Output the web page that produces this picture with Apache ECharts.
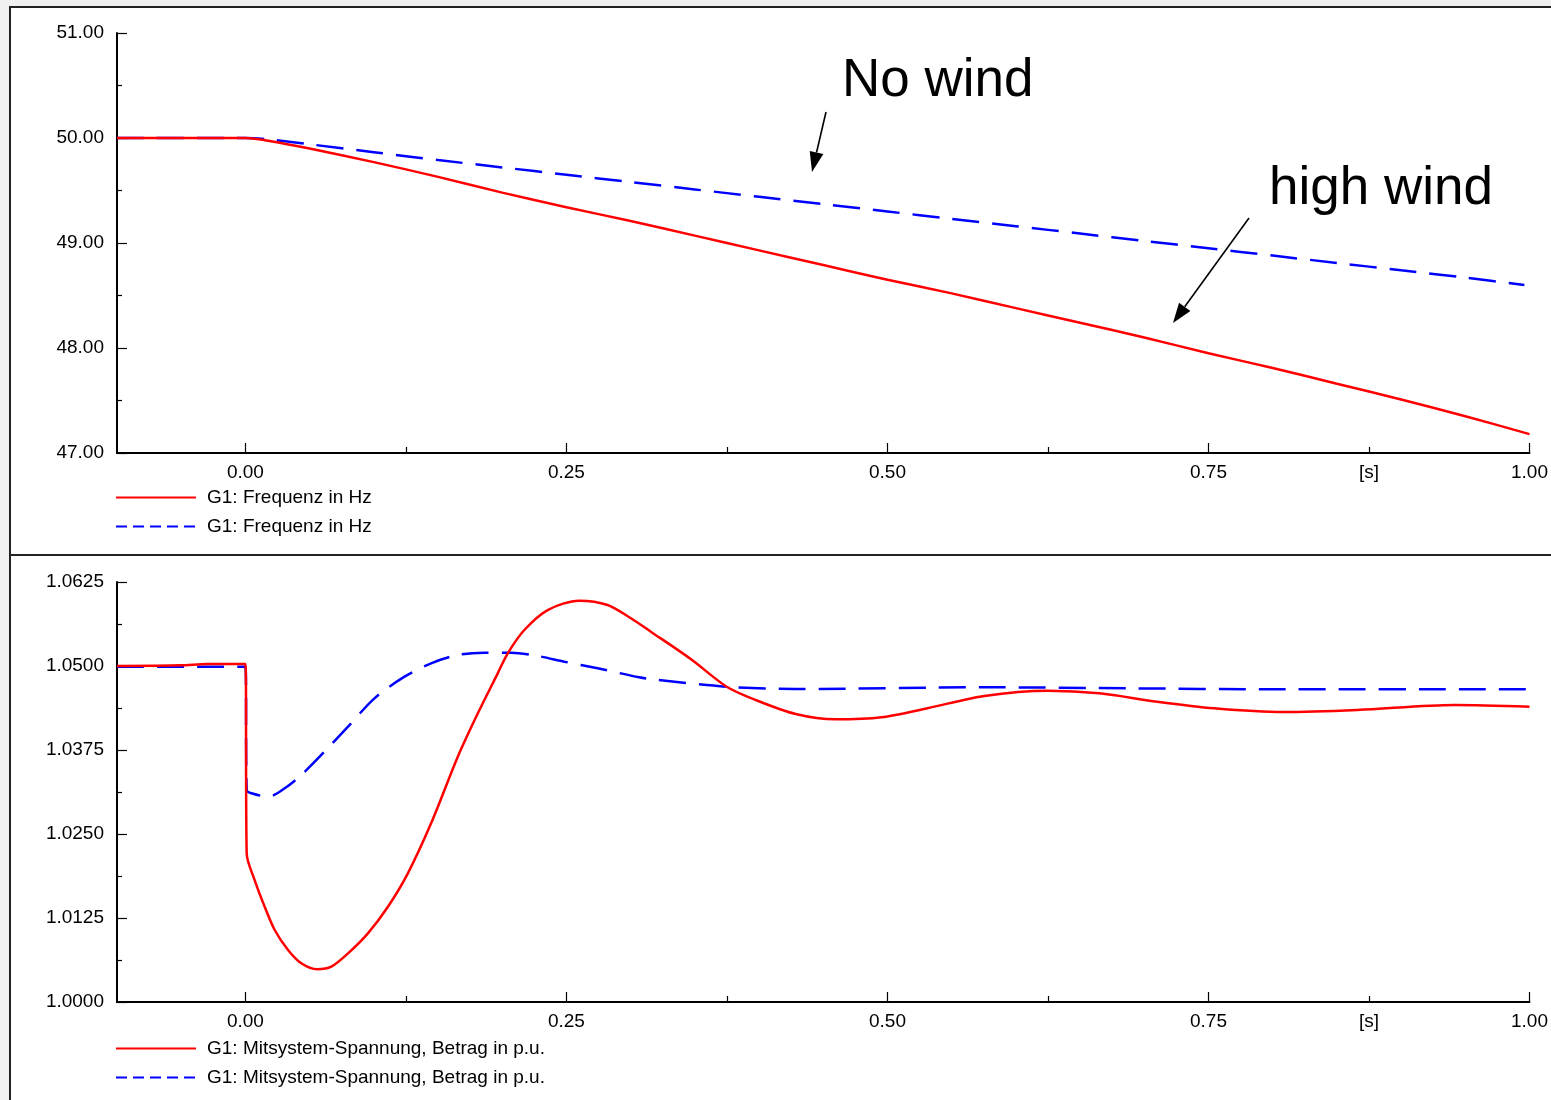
<!DOCTYPE html>
<html>
<head>
<meta charset="utf-8">
<script src="https://cdn.jsdelivr.net/npm/echarts@6.0.0/dist/echarts.min.js"></script>
<style>
html,body{margin:0;padding:0;background:#f0f0f0;}
#c{width:1551px;height:1100px;}
</style>
</head>
<body>
<div id="c"></div>
<script>
// ---------- DATA ----------
// Top panel: frequency [Hz] vs time [s]
const timeFreqRed = [-0.1, 0, 0.02, 0.05, 0.1, 0.15, 0.2, 0.25, 0.3, 0.35, 0.4, 0.45, 0.5, 0.55, 0.6, 0.65, 0.7, 0.75, 0.8, 0.85, 0.9, 0.95, 1.0];
const freqRed     = [50.0, 50.0, 49.97, 49.90, 49.77, 49.63, 49.48, 49.34, 49.21, 49.07, 48.93, 48.79, 48.65, 48.52, 48.38, 48.24, 48.10, 47.95, 47.81, 47.66, 47.51, 47.35, 47.18];
const timeFreqBlue = [-0.1, 0, 0.02, 0.05, 0.1, 0.15, 0.2, 0.25, 0.3, 0.35, 0.4, 0.45, 0.5, 0.55, 0.6, 0.65, 0.7, 0.75, 0.8, 0.85, 0.9, 0.95, 0.996];
const freqBlue     = [50.0, 50.0, 49.985, 49.94, 49.865, 49.79, 49.72, 49.65, 49.58, 49.51, 49.44, 49.37, 49.30, 49.23, 49.16, 49.09, 49.02, 48.95, 48.88, 48.81, 48.74, 48.67, 48.60];

// Bottom panel: positive-sequence voltage [p.u.] vs time [s]
const timeVoltRed = [-0.1, -0.05, -0.03, 0, 0.001, 0.0072, 0.015, 0.0228, 0.0332, 0.0435, 0.056, 0.0669, 0.0799, 0.0954, 0.111, 0.1265, 0.1446, 0.1654, 0.181, 0.1965, 0.2043, 0.2172, 0.2354, 0.26, 0.282, 0.3002, 0.3157, 0.3468, 0.3748, 0.3974, 0.4285, 0.4596, 0.4953, 0.5311, 0.5754, 0.6248, 0.6649, 0.71, 0.7543, 0.8079, 0.8659, 0.9417, 1.0];
const voltRed     = [1.0500, 1.0501, 1.0503, 1.0503, 1.0221, 1.01815, 1.01418, 1.01071, 1.00774, 1.00576, 1.00487, 1.00526, 1.00724, 1.01022, 1.01418, 1.01915, 1.02659, 1.0365, 1.04296, 1.04891, 1.05189, 1.05536, 1.05833, 1.05972, 1.05908, 1.0571, 1.05511, 1.05104, 1.04692, 1.04494, 1.04286, 1.04207, 1.04237, 1.04371, 1.04554, 1.04632, 1.04594, 1.04469, 1.04371, 1.04315, 1.04345, 1.0442, 1.04394];
const timeVoltBlue = [-0.1, 0, 0.001, 0.0047, 0.0177, 0.0306, 0.0435, 0.0591, 0.0799, 0.1005, 0.1239, 0.1446, 0.1654, 0.1861, 0.2068, 0.2276, 0.2483, 0.2743, 0.3066, 0.3169, 0.3748, 0.4285, 0.5754, 0.6874, 0.7986, 1.0];
const voltBlue     = [1.0499, 1.0499, 1.0315, 1.03106, 1.03055, 1.0318, 1.03378, 1.03676, 1.04097, 1.04519, 1.04841, 1.0504, 1.05164, 1.05198, 1.05198, 1.05149, 1.05064, 1.04966, 1.04832, 1.04802, 1.04692, 1.04658, 1.04683, 1.04668, 1.04653, 1.04653];

// Axis ticks / labels
const xMajorTicks = [0, 0.25, 0.5, 0.75, 1.0];
const xMinorTicks = [0.125, 0.375, 0.625, 0.875];
const xLabelValues = [0, 0.25, 0.5, 0.75, 0.875, 1.0];
const xLabelTexts  = ['0.00', '0.25', '0.50', '0.75', '[s]', '1.00'];
const freqName = 'G1: Frequenz in Hz';
const voltName = 'G1: Mitsystem-Spannung, Betrag in p.u.';
const annotations = ['No wind', 'high wind'];

// ---------- CHART ----------
const FONT = '"Liberation Sans", Arial, sans-serif';
const BLACK = '#000';
const zip = (xs, ys) => xs.map((x, i) => [x, ys[i]]);

function xLabelFor(v) {
  let best = 0, bd = Infinity;
  xLabelValues.forEach((lv, i) => { const d = Math.abs(lv - v); if (d < bd) { bd = d; best = i; } });
  return xLabelTexts[best];
}

function makeXAxes(gridIndex) {
  return [{
    type: 'value', gridIndex, min: -0.1, max: 1.0, position: 'bottom',
    axisLine: { show: true, onZero: false, lineStyle: { color: BLACK, width: 2 } },
    axisTick: { show: true, inside: true, length: 10, customValues: xMajorTicks, lineStyle: { color: BLACK, width: 1.2 } },
    axisLabel: { show: true, customValues: xLabelValues, formatter: xLabelFor, margin: 10, color: BLACK, fontSize: 19, fontFamily: FONT },
    splitLine: { show: false }
  }, {
    type: 'value', gridIndex, min: -0.1, max: 1.0, position: 'bottom',
    axisLine: { show: false, onZero: false },
    axisTick: { show: true, inside: true, length: 6, customValues: xMinorTicks, lineStyle: { color: BLACK, width: 1.2 } },
    axisLabel: { show: false },
    splitLine: { show: false }
  }];
}

function makeYAxis(gridIndex, min, max, interval, digits) {
  return {
    type: 'value', gridIndex, min, max, interval,
    axisLine: { show: true, onZero: false, lineStyle: { color: BLACK, width: 2 } },
    axisTick: { show: true, inside: true, length: 10, lineStyle: { color: BLACK, width: 1.2 } },
    minorTick: { show: true, splitNumber: 2, length: 5, lineStyle: { color: BLACK, width: 1.2 } },
    axisLabel: { formatter: v => v.toFixed(digits), margin: 13, color: BLACK, fontSize: 19, fontFamily: FONT },
    splitLine: { show: false }, minorSplitLine: { show: false }
  };
}

const RED = '#ff0000', BLUE = '#0000ff';
const lineSeries = (name, data, color, dashed, xAxisIndex, yAxisIndex) => ({
  type: 'line', name, data, xAxisIndex, yAxisIndex,
  showSymbol: false, symbol: 'none', smooth: 0.3,
  lineStyle: { color, width: 2.5, type: dashed ? [27, 13] : 'solid' },
  itemStyle: { color },
  emphasis: { disabled: true }, animation: false, z: dashed ? 3 : 4
});

function arrow(x1, y1, x2, y2) {
  const dx = x2 - x1, dy = y2 - y1, L = Math.hypot(dx, dy);
  const ux = dx / L, uy = dy / L, nx = -uy, ny = ux;
  const hl = 20, hw = 7;
  const bx = x2 - ux * hl, by = y2 - uy * hl;
  return [
    { type: 'line', z: 100, shape: { x1, y1, x2: bx, y2: by }, style: { stroke: BLACK, lineWidth: 1.6 } },
    { type: 'polygon', z: 100, shape: { points: [[x2, y2], [bx + nx * hw, by + ny * hw], [bx - nx * hw, by - ny * hw]] }, style: { fill: BLACK } }
  ];
}

const chart = echarts.init(document.getElementById('c'), null, { renderer: 'canvas' });

const legendBase = (top, names) => ({
  orient: 'vertical', left: 115, top, padding: 0, itemWidth: 80, itemHeight: 14, itemGap: 10,
  selectedMode: false,
  textStyle: { fontSize: 19, lineHeight: 18, color: BLACK, fontFamily: FONT, padding: [0, 0, 0, 6] },
  data: [
    { name: names[0], itemStyle: { opacity: 0 }, lineStyle: { type: 'solid', width: 2 } },
    { name: names[1], itemStyle: { opacity: 0 }, lineStyle: { type: [11, 6], width: 2 } }
  ]
});

const option = {
  backgroundColor: '#f0f0f0',
  animation: false,
  grid: [
    { left: 117, top: 33, width: 1413, height: 420 },
    { left: 117, top: 582, width: 1413, height: 420 }
  ],
  xAxis: [...makeXAxes(0), ...makeXAxes(1)],
  yAxis: [makeYAxis(0, 47, 51, 1, 2), makeYAxis(1, 1.0, 1.0625, 0.0125, 4)],
  legend: [
    legendBase(488, [freqName, freqName + ' ']),
    legendBase(1039, [voltName, voltName + ' '])
  ],
  series: [
    lineSeries(freqName, zip(timeFreqRed, freqRed), RED, false, 0, 0),
    lineSeries(freqName + ' ', zip(timeFreqBlue, freqBlue), BLUE, true, 0, 0),
    lineSeries(voltName, zip(timeVoltRed, voltRed), RED, false, 2, 1),
    lineSeries(voltName + ' ', zip(timeVoltBlue, voltBlue), BLUE, true, 2, 1)
  ],
  graphic: [
    { type: 'rect', z: -10, shape: { x: 10, y: 7, width: 1560, height: 1110 }, style: { fill: '#fff', stroke: '#222', lineWidth: 2 } },
    { type: 'line', z: -9, shape: { x1: 10, y1: 555, x2: 1551, y2: 555 }, style: { stroke: '#222', lineWidth: 2 } },
    { type: 'text', z: 100, style: { text: annotations[0], x: 842, y: 81, fill: BLACK, font: '53px "Liberation Sans", Arial, sans-serif', align: 'left', verticalAlign: 'middle' } },
    { type: 'text', z: 100, style: { text: annotations[1], x: 1269, y: 189, fill: BLACK, font: '53px "Liberation Sans", Arial, sans-serif', align: 'left', verticalAlign: 'middle' } },
    ...arrow(826, 112, 812, 172),
    ...arrow(1249, 218, 1173, 323)
  ]
};
chart.setOption(option);
</script>
</body>
</html>
